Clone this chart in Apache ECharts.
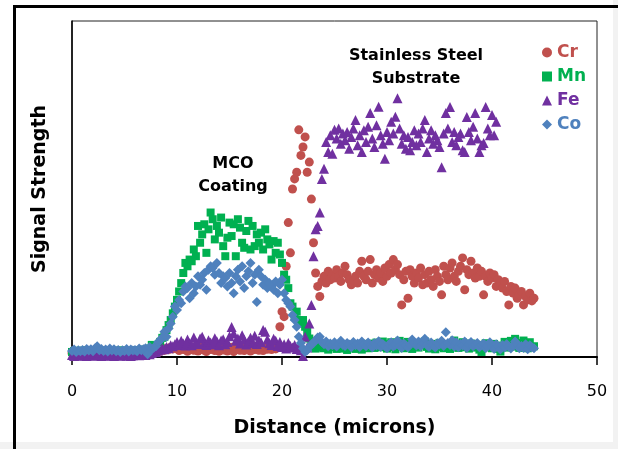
<!DOCTYPE html>
<html>
<head>
<meta charset="utf-8">
<script src="https://cdn.jsdelivr.net/npm/echarts@6/dist/echarts.min.js"></script>
<style>
  html, body { margin: 0; padding: 0; background: #f2f2f2; }
  #chart { width: 618px; height: 449px; }
</style>
</head>
<body>
<div id="chart"></div>
<script>
// Distance along the line scan (microns), one row per micron
var distance = [
  0, 0.2, 0.4, 0.6, 0.8, 1, 1.2, 1.4, 1.6, 1.8,
  2, 2.2, 2.4, 2.6, 2.8, 3, 3.2, 3.4, 3.6, 3.8,
  4, 4.2, 4.4, 4.6, 4.8, 5, 5.2, 5.4, 5.6, 5.8,
  6, 6.2, 6.4, 6.6, 6.8, 7, 7.2, 7.4, 7.6, 7.8,
  8, 8.2, 8.4, 8.6, 8.8, 9, 9.2, 9.4, 9.6, 9.8,
  10, 10.2, 10.4, 10.6, 10.8, 11, 11.2, 11.4, 11.6, 11.8,
  12, 12.2, 12.4, 12.6, 12.8, 13, 13.2, 13.4, 13.6, 13.8,
  14, 14.2, 14.4, 14.6, 14.8, 15, 15.2, 15.4, 15.6, 15.8,
  16, 16.2, 16.4, 16.6, 16.8, 17, 17.2, 17.4, 17.6, 17.8,
  18, 18.2, 18.4, 18.6, 18.8, 19, 19.2, 19.4, 19.6, 19.8,
  20, 20.2, 20.4, 20.6, 20.8, 21, 21.2, 21.4, 21.6, 21.8,
  22, 22.2, 22.4, 22.6, 22.8, 23, 23.2, 23.4, 23.6, 23.8,
  24, 24.2, 24.4, 24.6, 24.8, 25, 25.2, 25.4, 25.6, 25.8,
  26, 26.2, 26.4, 26.6, 26.8, 27, 27.2, 27.4, 27.6, 27.8,
  28, 28.2, 28.4, 28.6, 28.8, 29, 29.2, 29.4, 29.6, 29.8,
  30, 30.2, 30.4, 30.6, 30.8, 31, 31.2, 31.4, 31.6, 31.8,
  32, 32.2, 32.4, 32.6, 32.8, 33, 33.2, 33.4, 33.6, 33.8,
  34, 34.2, 34.4, 34.6, 34.8, 35, 35.2, 35.4, 35.6, 35.8,
  36, 36.2, 36.4, 36.6, 36.8, 37, 37.2, 37.4, 37.6, 37.8,
  38, 38.2, 38.4, 38.6, 38.8, 39, 39.2, 39.4, 39.6, 39.8,
  40, 40.2, 40.4, 40.6, 40.8, 41, 41.2, 41.4, 41.6, 41.8,
  42, 42.2, 42.4, 42.6, 42.8, 43, 43.2, 43.4, 43.6, 43.8,
  44
];

// Signal strength (arbitrary units, 0-100)
var cr = [
  1.2, 0.8, 1.5, 1.0, 0.9, 1.4, 1.1, 0.7, 1.3, 1.0,
  0.8, 1.2, 1.0, 0.6, 1.1, 0.9, 0.7, 1.2, 0.9, 1.0,
  1.1, 0.8, 0.6, 1.0, 0.9, 1.3, 0.8, 1.1, 1.0, 0.7,
  1.2, 0.9, 1.1, 1.4, 1.0, 1.3, 1.2, 1.6, 1.4, 1.8,
  1.5, 2.0, 1.7, 2.3, 2.0, 2.6, 2.2, 2.9, 2.4, 3.0,
  2.5, 1.9, 2.8, 2.2, 3.1, 1.7, 2.4, 3.0, 2.0, 2.6,
  1.8, 2.3, 3.2, 2.0, 1.6, 2.7, 2.2, 3.0, 1.9, 2.4,
  1.7, 2.8, 2.1, 3.3, 1.8, 2.4, 2.9, 1.6, 2.5, 3.1,
  2.0, 2.6, 1.9, 2.3, 3.0, 1.8, 2.7, 2.2, 3.2, 2.0,
  2.5, 1.9, 2.8, 2.3, 3.0, 2.2, 2.9, 2.4, 3.5, 9.0,
  13.5, 12.0, 27.0, 40.0, 31.0, 50.0, 53.0, 55.0, 67.6, 60.0,
  62.5, 65.5, 55.0, 58.0, 47.0, 34.0, 25.0, 21.0, 18.0, 22.5,
  24.0, 22.0, 25.5, 23.0, 24.5, 23.5, 26.0, 24.0, 22.5, 25.0,
  27.0, 24.5, 23.0, 21.5, 22.8, 24.0, 22.0, 25.5, 28.5, 24.0,
  23.0, 25.5, 29.0, 22.0, 24.5, 26.0, 23.5, 25.0, 22.5, 26.5,
  24.0, 27.5, 25.0, 29.0, 26.0, 27.5, 24.5, 15.5, 23.0, 25.5,
  17.5, 26.0, 24.0, 22.0, 25.0, 23.5, 26.5, 21.5, 24.5, 22.0,
  25.5, 23.0, 21.0, 26.0, 24.0, 22.5, 18.5, 27.0, 24.5, 23.0,
  26.5, 28.0, 24.0, 22.5, 25.5, 27.0, 29.5, 20.0, 26.0, 24.5,
  28.5, 25.0, 23.5, 26.5, 24.0, 25.5, 18.5, 24.0, 22.5, 25.0,
  23.5, 24.5, 21.0, 23.0, 22.0, 20.5, 22.5, 19.5, 15.5, 21.0,
  19.0, 20.5, 17.5, 18.5, 19.5, 15.5, 18.0, 17.0, 19.0, 16.7,
  17.5
];

var mn = [
  1.5, 1.8, 1.2, 1.6, 1.9, 1.4, 1.7, 2.0, 1.5, 1.3,
  1.8, 1.6, 2.1, 1.4, 1.7, 1.5, 1.9, 1.3, 1.6, 1.8,
  1.4, 1.7, 1.5, 2.0, 1.6, 1.8, 1.3, 1.7, 1.5, 1.9,
  1.6, 2.0, 1.7, 1.9, 2.2, 1.8, 2.1, 2.5, 3.6, 2.8,
  3.0, 3.6, 4.5, 5.7, 6.0, 8.0, 9.5, 11.0, 13.0, 15.0,
  17.0, 19.5, 22.0, 25.0, 28.0, 27.0, 29.0, 28.5, 32.0, 30.0,
  39.0, 34.0, 36.5, 39.5, 31.0, 38.0, 43.0, 41.0, 35.0, 39.0,
  37.0, 41.5, 33.0, 30.0, 35.5, 40.0, 36.0, 39.5, 30.0, 41.0,
  38.5, 34.0, 32.5, 37.5, 40.5, 32.0, 39.0, 33.0, 36.5, 34.0,
  37.0, 32.0, 38.0, 35.0, 33.5, 29.0, 34.5, 31.0, 34.0, 30.5,
  28.0, 24.5, 23.0, 20.5, 16.0, 15.0, 12.0, 13.5, 11.0, 10.0,
  11.0, 9.0, 7.5, 5.5, 4.0, 3.0, 2.5, 3.2, 2.8, 3.5,
  2.6, 3.4, 2.2, 3.0, 3.8, 2.9, 2.4, 3.6, 3.1, 2.5,
  3.3, 2.1, 3.7, 2.8, 3.2, 2.4, 3.5, 3.0, 2.2, 3.9,
  3.1, 2.6, 4.0, 3.3, 2.7, 4.3, 3.6, 2.9, 4.6, 3.2,
  2.5, 3.8, 4.4, 3.0, 2.3, 3.6, 4.8, 3.2, 2.6, 3.9,
  4.5, 3.1, 2.4, 3.7, 3.3, 2.8, 4.1, 3.5, 4.6, 3.0,
  2.5, 3.9, 3.2, 2.3, 3.6, 4.2, 3.0, 2.6, 3.8, 3.3,
  2.4, 3.7, 4.9, 3.1, 2.7, 3.5, 4.4, 2.9, 3.2, 2.5,
  4.0, 3.4, 2.8, 3.6, 2.2, 1.5, 3.3, 4.1, 2.9, 3.5,
  2.6, 3.9, 3.1, 2.4, 1.6, 3.4, 4.5, 2.8, 3.7, 4.8,
  3.1, 5.4, 4.2, 2.7, 3.6, 4.9, 3.3, 2.6, 4.4, 3.0,
  3.2
];

var fe = [
  0.6, 0.3, 0.8, 0.5, 0.4, 0.7, 0.5, 0.3, 0.6, 0.8,
  0.4, 0.6, 0.5, 0.9, 0.3, 0.5, 0.7, 0.4, 0.6, 0.5,
  0.3, 0.6, 0.8, 0.4, 0.5, 0.7, 0.4, 0.6, 0.3, 0.5,
  0.6, 0.8, 0.5, 0.7, 0.9, 0.6, 1.0, 0.8, 1.2, 1.5,
  1.4, 1.9, 2.2, 2.6, 2.3, 3.0, 2.6, 3.5, 3.2, 3.8,
  4.5, 3.6, 4.8, 4.0, 3.4, 5.2, 4.1, 3.5, 5.8, 4.4,
  3.9, 5.5, 6.0, 4.2, 3.6, 5.0, 4.3, 3.8, 5.6, 4.7,
  3.5, 4.9, 5.3, 3.8, 4.5, 6.2, 8.9, 7.0, 4.8, 5.5,
  4.0, 6.5, 5.1, 3.7, 4.6, 5.7, 4.2, 6.3, 3.9, 5.0,
  4.4, 8.0, 7.5, 5.2, 4.1, 3.6, 5.4, 4.8, 3.3, 4.5,
  3.0, 3.8, 2.5, 4.2, 3.3, 2.8, 3.6, 2.4, 3.1, 2.0,
  0.3, 6.0, 2.8, 10.0, 15.5, 30.0, 38.0, 39.0, 43.0, 53.0,
  56.0, 64.0, 61.0, 66.0, 60.5, 67.6, 65.0, 68.0, 63.5, 66.5,
  64.5, 67.0, 62.0, 65.5, 68.0, 70.5, 63.0, 66.0, 61.0, 67.5,
  64.0, 68.5, 72.6, 65.0, 62.5, 69.0, 74.5, 66.0, 63.5, 59.0,
  67.0, 64.5, 70.0, 66.5, 71.5, 77.0, 68.0, 63.5, 66.0, 62.0,
  65.5, 61.5, 64.0, 67.5, 63.0, 66.5, 64.0, 68.0, 70.5, 61.0,
  65.0, 67.5, 63.5, 66.0, 64.5, 62.5, 56.5, 66.5, 72.6, 68.0,
  74.4, 64.0, 67.0, 63.0, 65.5, 66.5, 61.5, 61.0, 71.4, 67.0,
  64.5, 68.5, 72.6, 65.0, 61.0, 63.0, 63.7, 74.4, 68.0, 66.0,
  72.0, 66.0, 70.0, null, null, null, null, null, null, null,
  null, null, null, null, null, null, null, null, null, null,
  null
];

var co = [
  1.8, 2.2, 1.5, 2.0, 1.7, 2.1, 1.6, 2.4, 1.9, 2.3,
  1.7, 2.6, 3.2, 2.0, 2.4, 1.8, 2.2, 1.6, 2.5, 1.9,
  2.3, 1.7, 2.1, 1.5, 2.0, 1.8, 2.4, 1.6, 2.2, 1.9,
  2.1, 1.7, 2.5, 2.0, 2.3, 2.6, 0.8, 3.0, 2.2, 2.8,
  3.2, 4.5, 5.0, 5.8, 7.5, 6.0, 8.5, 10.0, 12.0, 15.0,
  14.0, 17.0, 16.0, 19.5, 21.0, 20.5, 17.5, 22.0, 19.0, 21.0,
  24.0, 21.5, 23.0, 25.0, 20.0, 26.0, 27.0, 26.5, 24.5, 28.0,
  25.0, 22.0, 24.0, 23.5, 21.0, 25.0, 22.0, 19.0, 24.0, 26.0,
  22.5, 27.0, 20.5, 24.0, 25.5, 28.0, 22.0, 24.5, 16.4, 26.0,
  24.0, 21.5, 23.0, 20.5, 22.0, 21.0, 20.0, 22.5, 19.0, 21.5,
  23.0, 19.0, 17.0, 16.0, 15.0, 12.5, 11.0, 9.0, 6.0, 4.2,
  2.5, 1.5, 2.0, 3.0, 3.8, 4.2, 5.0, 5.8, 6.0, 4.5,
  3.8, 4.6, 3.2, 4.0, 3.5, 4.4, 3.1, 3.9, 4.8, 3.6,
  3.3, 4.2, 3.7, 2.9, 4.5, 3.5, 4.0, 3.0, 4.6, 3.8,
  3.2, 4.3, 3.6, 2.8, 4.1, 3.4, 4.7, 3.0, 3.9, 3.3,
  2.6, 3.8, 4.4, 3.1, 3.6, 4.9, 3.3, 2.7, 4.0, 3.5,
  2.9, 3.7, 5.2, 4.1, 3.4, 4.6, 3.2, 4.0, 5.4, 3.6,
  3.0, 4.3, 3.5, 2.8, 4.1, 3.7, 4.8, 3.3, 7.4, 4.2,
  3.6, 5.0, 3.1, 4.4, 2.9, 3.9, 3.4, 4.6, 2.7, 3.8,
  4.5, 3.2, 3.7, 4.2, 2.9, 3.5, 4.0, 2.6, 3.3, 4.4,
  3.0, 2.4, 3.8, 3.2, 2.2, 3.6, 2.8, 3.9, 3.1, 2.5,
  3.4, 4.6, 3.8, 2.6, 3.3, 2.7, 3.8, 2.3, 3.5, 2.9,
  2.6
];

var xTicks = [0, 10, 20, 30, 40, 50];

var colors = { Cr: '#C0504D', Mn: '#00B050', Fe: '#7030A0', Co: '#4F81BD' };
var FONT = '"DejaVu Sans", Verdana, sans-serif';

function pairs(vals) {
  var out = [];
  vals.forEach(function (v, i) {
    if (v !== null) out.push([distance[i], v]);
  });
  return out;
}

var chart = echarts.init(document.getElementById('chart'), null, { renderer: 'canvas' });

var option = {
  backgroundColor: '#ffffff',
  animation: false,
  grid: {
    left: 72, right: 21, top: 21, bottom: 92,
    show: true, borderColor: '#222', borderWidth: 1
  },
  legend: {
    orient: 'vertical',
    left: 537, top: 39,
    itemWidth: 10, itemHeight: 10, itemGap: 7,
    textStyle: { fontFamily: FONT, fontWeight: 'bold', fontSize: 17 },
    data: ['Cr', 'Mn', 'Fe', 'Co'].map(function (n) {
      return { name: n, textStyle: { color: colors[n] } };
    })
  },
  xAxis: {
    type: 'value',
    min: xTicks[0], max: xTicks[xTicks.length - 1], interval: 10,
    name: 'Distance (microns)',
    nameLocation: 'middle', nameGap: 62,
    nameTextStyle: { fontFamily: FONT, fontWeight: 'bold', fontSize: 19, color: '#000' },
    axisLine: { lineStyle: { color: '#000', width: 2 } },
    axisTick: { inside: false, length: 8, lineStyle: { color: '#000', width: 1.5 } },
    axisLabel: { margin: 27, fontFamily: FONT, fontSize: 16, color: '#000' },
    splitLine: { show: false }
  },
  yAxis: {
    type: 'value',
    min: 0, max: 100,
    name: 'Signal Strength',
    nameLocation: 'middle', nameGap: 22,
    nameTextStyle: { fontFamily: FONT, fontWeight: 'bold', fontSize: 19, color: '#000' },
    axisLine: { show: true, lineStyle: { color: '#000', width: 1.5 } },
    axisTick: { show: false },
    axisLabel: { show: false },
    splitLine: { show: false }
  },
  graphic: [
    { type: 'rect', z: -10, shape: { x: 613, y: 0, width: 5, height: 449 }, style: { fill: '#f2f2f2' } },
    { type: 'rect', z: -10, shape: { x: 0, y: 442, width: 618, height: 7 }, style: { fill: '#f2f2f2' } },
    { type: 'line', shape: { x1: 14.5, y1: 5, x2: 14.5, y2: 449 }, style: { stroke: '#000', lineWidth: 3 } },
    { type: 'line', shape: { x1: 13, y1: 6.5, x2: 618, y2: 6.5 }, style: { stroke: '#000', lineWidth: 3 } },
    {
      type: 'text', x: 233, y: 175,
      style: {
        text: 'MCO\nCoating', align: 'center', verticalAlign: 'middle',
        fontFamily: FONT, fontWeight: 'bold', fontSize: 16, lineHeight: 23, fill: '#000'
      }
    },
    {
      type: 'text', x: 416, y: 67,
      style: {
        text: 'Stainless Steel\nSubstrate', align: 'center', verticalAlign: 'middle',
        fontFamily: FONT, fontWeight: 'bold', fontSize: 16, lineHeight: 23, fill: '#000'
      }
    }
  ],
  series: [
    { name: 'Cr', type: 'scatter', symbol: 'circle', symbolSize: 9, itemStyle: { color: colors.Cr, opacity: 1 }, data: pairs(cr) },
    { name: 'Mn', type: 'scatter', symbol: 'rect', symbolSize: 8, itemStyle: { color: colors.Mn, opacity: 1 }, data: pairs(mn) },
    { name: 'Fe', type: 'scatter', symbol: 'triangle', symbolSize: 10, itemStyle: { color: colors.Fe, opacity: 1 }, data: pairs(fe) },
    { name: 'Co', type: 'scatter', symbol: 'diamond', symbolSize: 10, itemStyle: { color: colors.Co, opacity: 1 }, data: pairs(co) }
  ]
};

chart.setOption(option);
</script>
</body>
</html>
